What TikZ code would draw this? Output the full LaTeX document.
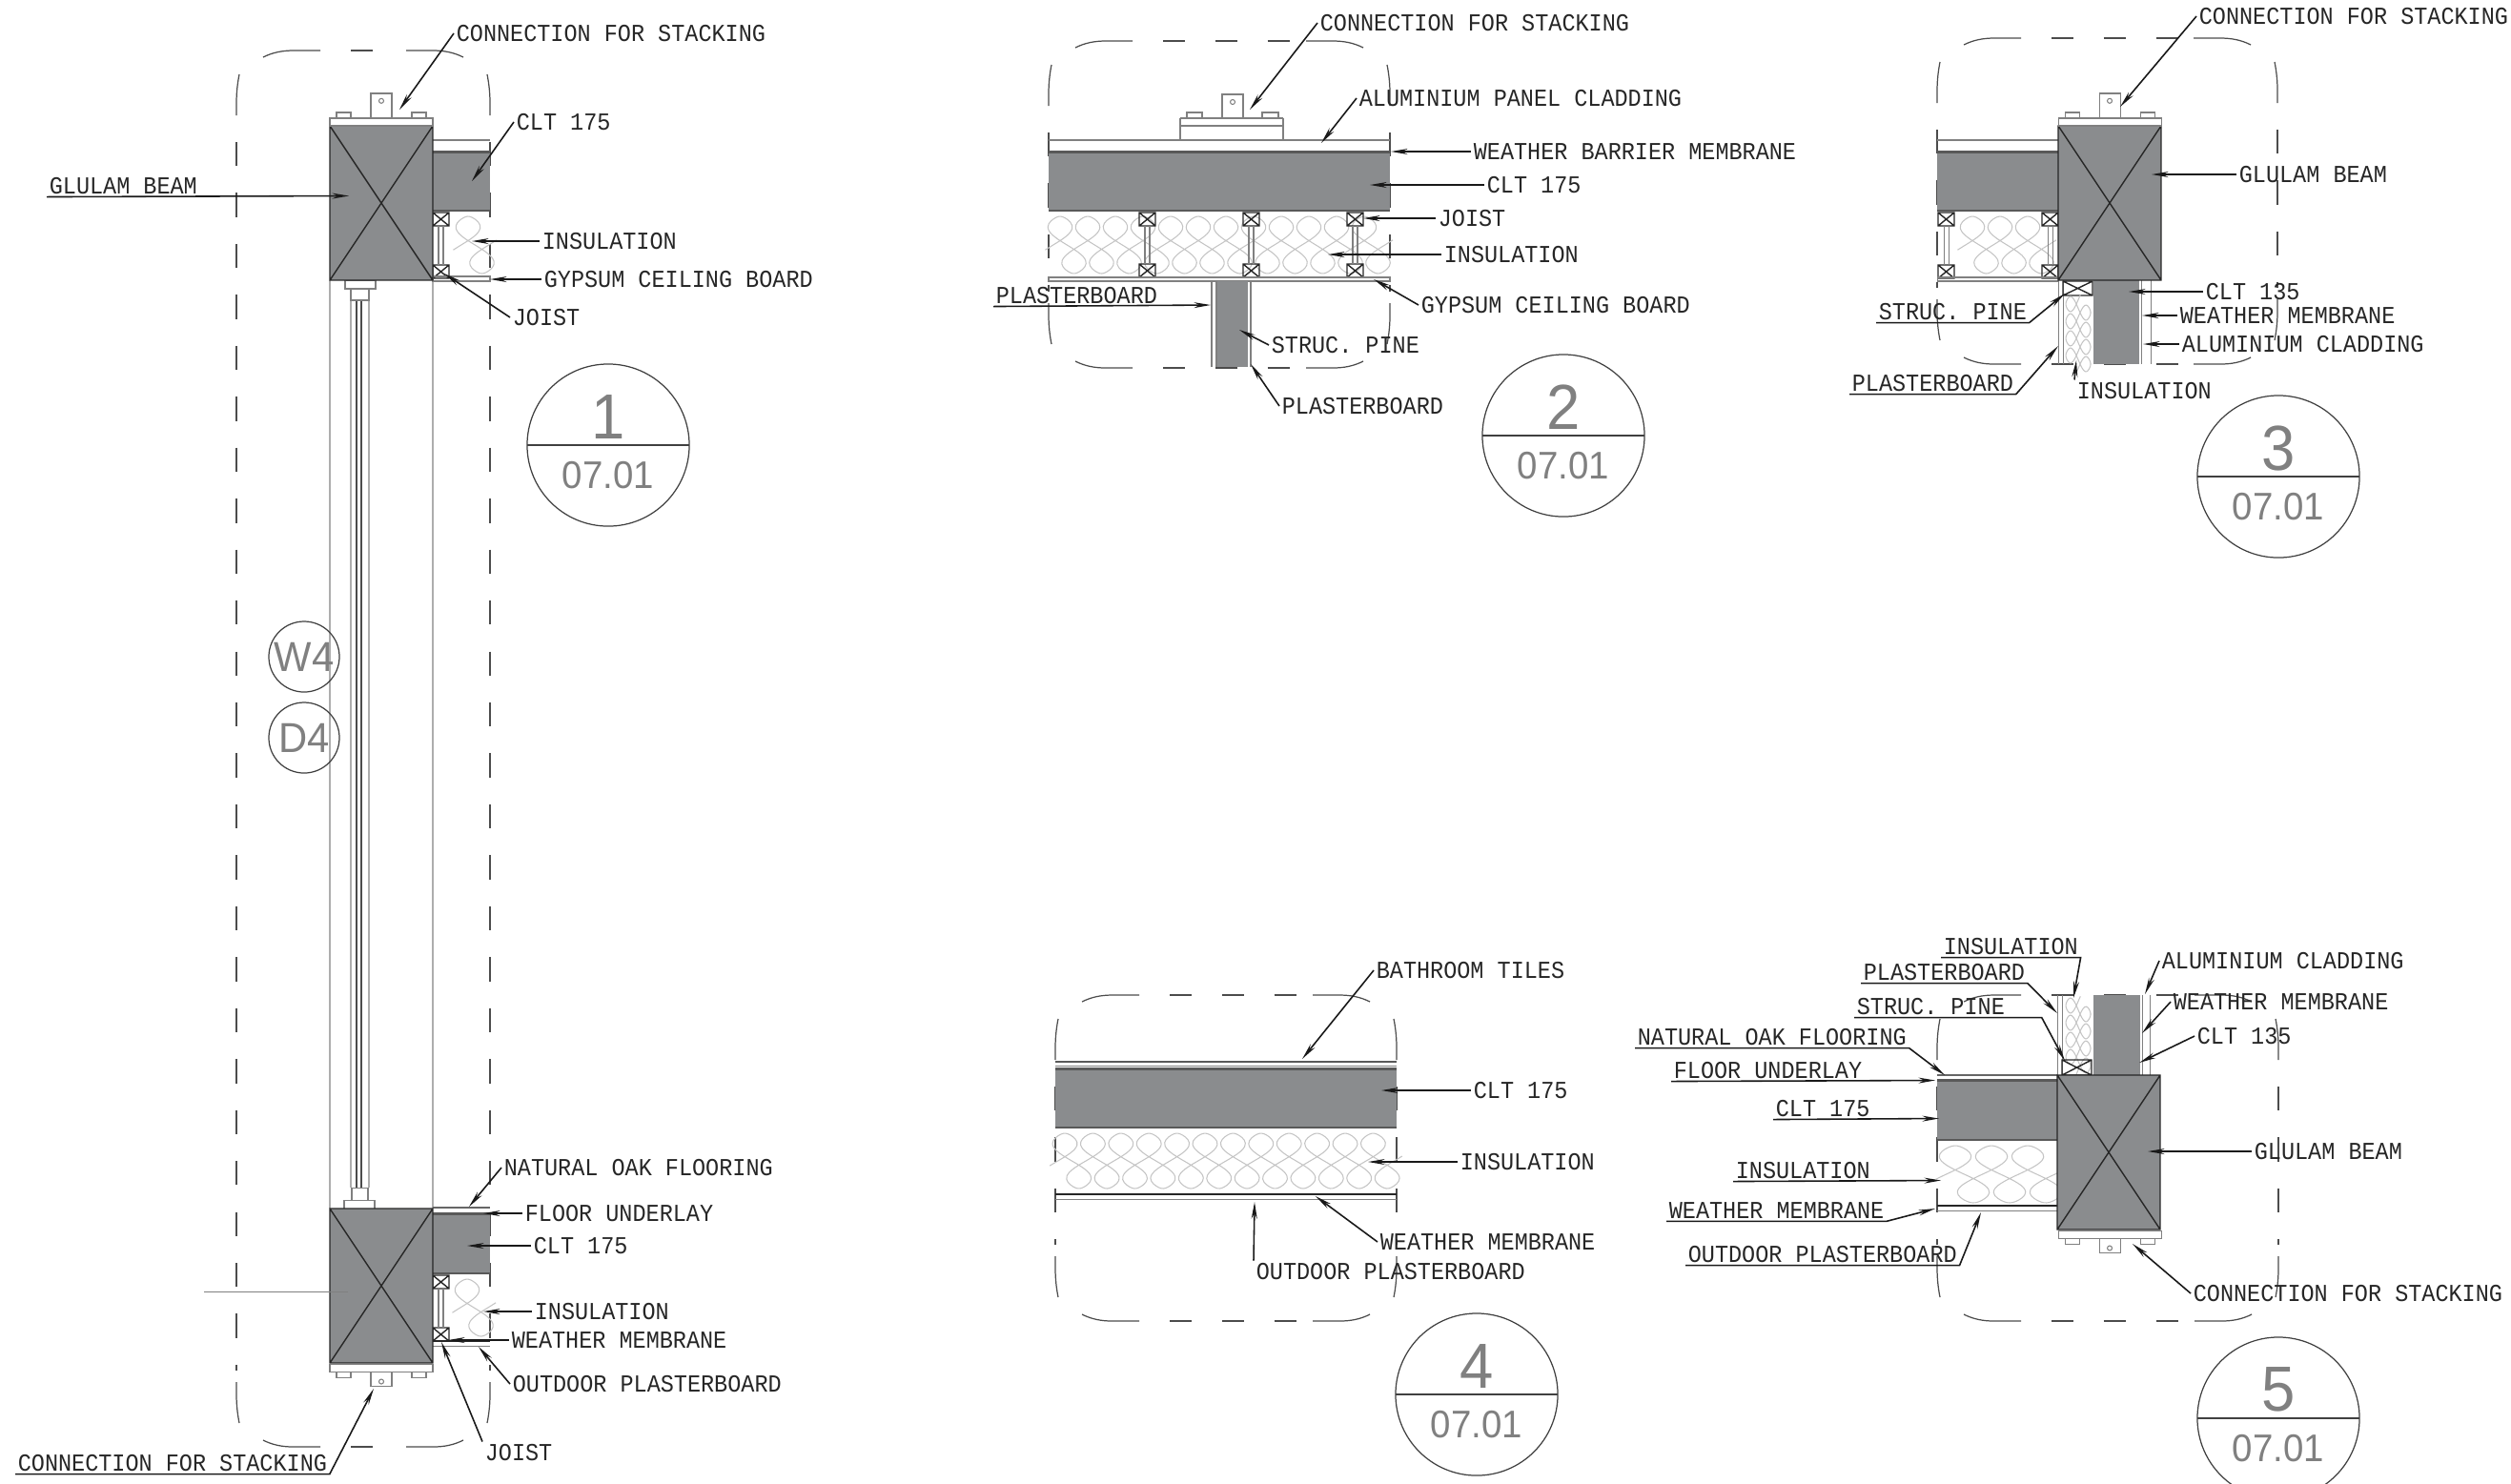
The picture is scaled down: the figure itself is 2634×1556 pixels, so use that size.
\documentclass[tikz,border=0pt]{standalone}
\usepackage{fontspec}
\usetikzlibrary{arrows.meta}
\newfontfamily\cadfont[FakeStretch=0.915]{Liberation Mono}
\newfontfamily\tagfont[FakeStretch=0.95]{Liberation Sans}
\definecolor{timber}{HTML}{8A8C8E}
\definecolor{batting}{HTML}{C4C4C4}

\tikzset{
  note/.style={anchor=west,inner sep=0.6pt,text=black!85,font=\cadfont\fontsize{7.3}{8}\selectfont},
  lead/.style={->,line width=0.45pt,black!90},
  cad/.style={line width=0.4pt,black!85},
  fine/.style={line width=0.3pt,black!50},
  pale/.style={line width=0.3pt,black!32},
  cut/.style={line width=0.35pt,black!70},
  batt/.style={line width=0.3pt,batting},
  tagcircle/.style={circle,draw=black!75,line width=0.35pt,minimum size=1.7cm,inner sep=0pt,outer sep=0pt},
  tagnum/.style={text=black!50,inner sep=0pt,font=\tagfont\fontsize{19}{20}\selectfont},
  tagsheet/.style={text=black!50,inner sep=0pt,font=\tagfont\fontsize{11.5}{12}\selectfont},
  ringtext/.style={circle,draw=black!75,line width=0.35pt,minimum size=0.74cm,inner sep=0pt,text=black!50,font=\tagfont\fontsize{12.5}{13}\selectfont},
}

\newcommand{\cutbox}[4]{
  \draw[cut] (#1+28,#2+7) .. controls (#1+38,#2+2) and (#1+48,#2) .. (#1+60,#2) -- (#1+88,#2);
  \draw[cut] (#1+#3-28,#2+7) .. controls (#1+#3-38,#2+2) and (#1+#3-48,#2) .. (#1+#3-60,#2) -- (#1+#3-88,#2);
  \draw[cut] (#1+28,#2+#4-7) .. controls (#1+38,#2+#4-2) and (#1+48,#2+#4) .. (#1+60,#2+#4) -- (#1+88,#2+#4);
  \draw[cut] (#1+#3-28,#2+#4-7) .. controls (#1+#3-38,#2+#4-2) and (#1+#3-48,#2+#4) .. (#1+#3-60,#2+#4) -- (#1+#3-88,#2+#4);
  \draw[cut] (#1+3,#2+25) .. controls (#1+1,#2+35) and (#1,#2+45) .. (#1,#2+55) -- (#1,#2+68);
  \draw[cut] (#1+#3-3,#2+25) .. controls (#1+#3-1,#2+35) and (#1+#3,#2+45) .. (#1+#3,#2+55) -- (#1+#3,#2+68);
  \draw[cut] (#1+3,#2+#4-25) .. controls (#1+1,#2+#4-35) and (#1,#2+#4-45) .. (#1,#2+#4-55) -- (#1,#2+#4-68);
  \draw[cut] (#1+#3-3,#2+#4-25) .. controls (#1+#3-1,#2+#4-35) and (#1+#3,#2+#4-45) .. (#1+#3,#2+#4-55) -- (#1+#3,#2+#4-68);
  \draw[cut,dash pattern=on 7.2pt off 8pt] (#1,#2+96) -- (#1,#2+#4-80);
  \draw[cut,dash pattern=on 7.2pt off 8pt] (#1+#3,#2+96) -- (#1+#3,#2+#4-80);
  \draw[cut,dash pattern=on 6.6pt off 9pt] (#1+120,#2) -- (#1+#3-100,#2);
  \draw[cut,dash pattern=on 6.6pt off 9pt] (#1+120,#2+#4) -- (#1+#3-100,#2+#4);
}
\newcommand{\glulam}[2]{
  \fill[timber] (#1,#2) rectangle (#1+108,#2+162);
  \draw[cad] (#1,#2) rectangle (#1+108,#2+162) (#1,#2) -- (#1+108,#2+162) (#1+108,#2) -- (#1,#2+162);
}
\newcommand{\stacktab}[4]{
  \draw[fine] (#1-54,#2) rectangle (#1+54,#2+8*#3);
  \draw[fine] (#1-47,#2+8*#3) rectangle (#1-32,#2+14*#3);
  \draw[fine] (#1+32,#2+8*#3) rectangle (#1+47,#2+14*#3);
  \draw[fine] (#1-11,#2+8*#3) rectangle (#1+11,#2+8*#3+#4*#3);
  \draw[fine] (#1,#2+8*#3+#4*#3*0.7) circle[radius=0.025cm];
}
\newcommand{\joist}[3]{
  \draw[cad] (#1,#2) rectangle (#1+17,#2+14) (#1,#2) -- (#1+17,#2+14) (#1+17,#2) -- (#1,#2+14);
  \draw[cad] (#1,#3-14) rectangle (#1+17,#3) (#1,#3-14) -- (#1+17,#3) (#1+17,#3-14) -- (#1,#3);
  \draw[fine] (#1+6,#2+14) -- (#1+6,#3-14) (#1+11,#2+14) -- (#1+11,#3-14);
}
\newcommand{\clt}[4]{
  \fill[timber] (#1,#2) rectangle (#3,#4);
  \fill[black!65] (#1,#2) rectangle (#3,#2+2.5);
  \fill[black!65] (#1,#4-2) rectangle (#3,#4);
}
\newcommand{\batth}[5]{
  \draw[batt] plot[domain=-100:180*#5+100,samples=20*#5+30,smooth,variable=\t]
    ({#1+#4/360*\t-0.55*#4*sin(2*\t)*(1-0.4*cos(2*\t))},{#2-#3*cos(\t)});
}
\newcommand{\battv}[5]{
  \draw[batt] plot[domain=-100:180*#5+100,samples=20*#5+30,smooth,variable=\t]
    ({#1-#3*cos(\t)},{#2+#4/360*\t-0.55*#4*sin(2*\t)*(1-0.4*cos(2*\t))});
}
\newcommand{\sheettag}[4]{
  \node[tagcircle] (tag#1) at (#2,#3) {};
  \draw[black!75,line width=0.35pt] (tag#1.west) -- (tag#1.east);
  \node[tagnum] (num#1) at (#2,#3-30) {#1};
  \node[tagsheet] (sheet#1) at (#2,#3+32) {#4};
}

\begin{document}
\begin{tikzpicture}[x=0.01cm,y=-0.01cm,>={Stealth[length=5pt,width=1.7pt]}]
\useasboundingbox (0,0) rectangle (2634,1556);
\clip (0,0) rectangle (2634,1556);

\cutbox{248}{53}{266}{1465}
\draw[pale] (346,294) -- (346,1268) (454,294) -- (454,1268);
\draw[pale] (368,315) -- (368,1246) (387,315) -- (387,1246);
\draw[black!70,line width=0.55pt] (374,315) -- (374,1246) (379,315) -- (379,1246);
\draw[fine] (362,294) rectangle (394,303) (368,303) rectangle (387,315);
\draw[fine] (361,1259) rectangle (393,1268) (369,1246) rectangle (386,1259);
\batth{491}{257}{30}{29}{1}
\draw[fine] (454,147) -- (514,147);
\clt{454}{158}{514}{222}
\joist{454}{223}{292}
\draw[fine] (454,290) rectangle (514,295);
\glulam{346}{132}
\stacktab{400}{132}{-1}{26}
\batth{490}{1372}{30}{29}{1}
\draw[black!60,line width=0.5pt] (454,1267) -- (514,1267);
\clt{454}{1272}{514}{1337}
\joist{454}{1338}{1407}
\draw[black!85,line width=0.6pt] (454,1407) -- (514,1407);
\draw[fine] (454,1412) -- (514,1412);
\glulam{346}{1268}
\stacktab{400}{1431}{1}{15}
\draw[fine] (214,1355) -- (365,1355);

\node[note] (stack1) at (476,35) {CONNECTION FOR STACKING};
\coordinate (stack1t) at (419,115);
\draw[lead] (stack1.west) -- (stack1t);
\node[note] (clt1) at (539,128) {CLT 175};
\coordinate (clt1t) at (495,190);
\draw[lead] (clt1.west) -- (clt1t);
\node[note] (beam1) at (49,195) {GLULAM BEAM};
\coordinate (beam1t) at (366,205.5);
\draw[lead] (beam1.south west) -- (beam1t);
\node[note] (ins1) at (566,253) {INSULATION};
\coordinate (ins1t) at (495,253);
\draw[lead] (ins1.west) -- (ins1t);
\node[note] (gyp1) at (568,293) {GYPSUM CEILING BOARD};
\coordinate (gyp1t) at (514,293);
\draw[lead] (gyp1.west) -- (gyp1t);
\node[note] (joist1) at (535,333) {JOIST};
\coordinate (joist1t) at (466,287);
\draw[lead] (joist1.west) -- (joist1t);
\node[note] (oak1) at (526,1225) {NATURAL OAK FLOORING};
\coordinate (oak1t) at (492,1266);
\draw[lead] (oak1.west) -- (oak1t);
\node[note] (under1) at (548,1273) {FLOOR UNDERLAY};
\coordinate (under1t) at (507,1273);
\draw[lead] (under1.west) -- (under1t);
\node[note] (cltb1) at (557,1307) {CLT 175};
\coordinate (cltb1t) at (490,1307);
\draw[lead] (cltb1.west) -- (cltb1t);
\node[note] (insb1) at (558,1376) {INSULATION};
\coordinate (insb1t) at (507,1376);
\draw[lead] (insb1.west) -- (insb1t);
\node[note] (wm1) at (534,1406) {WEATHER MEMBRANE};
\coordinate (wm1t) at (470,1406);
\draw[lead] (wm1.west) -- (wm1t);
\node[note] (out1) at (535,1452) {OUTDOOR PLASTERBOARD};
\coordinate (out1t) at (502,1413);
\draw[lead] (out1.west) -- (out1t);
\node[note] (joistb1) at (506,1524) {JOIST};
\coordinate (joistb1t) at (463,1408);
\draw[lead] (joistb1.north west) -- (joistb1t);
\node[note] (stackb1) at (16,1535) {CONNECTION FOR STACKING};
\coordinate (stackb1t) at (392,1457);
\draw[lead] (stackb1.south west) -- (stackb1.south east) -- (stackb1t);
\sheettag{1}{638}{467}{07.01}
\node[ringtext] (w4) at (319,689) {W4};
\node[ringtext] (d4) at (319,774) {D4};

\cutbox{1100}{43}{358}{343}
\batth{1112}{257}{30}{29}{23}
\draw[fine] (1100,147) -- (1458,147) (1238,147) -- (1238,124) (1346,147) -- (1346,124) (1238,132) -- (1346,132);
\draw[fine] (1238,124) -- (1346,124);
\draw[fine] (1245,124) rectangle (1261,118) (1324,124) rectangle (1341,118);
\draw[fine] (1282,124) rectangle (1304,99);
\draw[fine] (1293,107) circle[radius=0.025cm];
\clt{1100}{158}{1458}{222}
\joist{1195}{223}{291}
\joist{1304}{223}{291}
\joist{1413}{223}{291}
\draw[fine] (1100,291) rectangle (1458,295);
\fill[timber] (1276,295) rectangle (1309,385);
\draw[fine] (1271,295) -- (1271,385) (1276,295) -- (1276,385) (1312,295) -- (1312,385);

\node[note] (stack2) at (1382,24) {CONNECTION FOR STACKING};
\coordinate (stack2t) at (1311,115);
\draw[lead] (stack2.west) -- (stack2t);
\node[note] (alu2) at (1423,103) {ALUMINIUM PANEL CLADDING};
\coordinate (alu2t) at (1386,150);
\draw[lead] (alu2.west) -- (alu2t);
\node[note] (wm2) at (1543,159) {WEATHER BARRIER MEMBRANE};
\coordinate (wm2t) at (1459,159);
\draw[lead] (wm2.west) -- (wm2t);
\node[note] (clt2) at (1557,194) {CLT 175};
\coordinate (clt2t) at (1437,194);
\draw[lead] (clt2.west) -- (clt2t);
\node[note] (joist2) at (1506,229) {JOIST};
\coordinate (joist2t) at (1430,229);
\draw[lead] (joist2.west) -- (joist2t);
\node[note] (ins2) at (1512,267) {INSULATION};
\coordinate (ins2t) at (1393,267);
\draw[lead] (ins2.west) -- (ins2t);
\node[note] (gyp2) at (1488,320) {GYPSUM CEILING BOARD};
\coordinate (gyp2t) at (1441,293);
\draw[lead] (gyp2.west) -- (gyp2t);
\node[note] (plas2) at (1042,310) {PLASTERBOARD};
\coordinate (plas2t) at (1270,320);
\draw[lead] (plas2.south west) -- (plas2t);
\node[note] (pine2) at (1331,362) {STRUC. PINE};
\coordinate (pine2t) at (1300,346);
\draw[lead] (pine2.west) -- (pine2t);
\node[note] (plasb2) at (1342,426) {PLASTERBOARD};
\coordinate (plasb2t) at (1312,382);
\draw[lead] (plasb2.west) -- (plasb2t);
\sheettag{2}{1640}{457}{07.01}

\cutbox{2032}{40}{357}{342}
\batth{2069}{257}{30}{29}{5}
\draw[fine] (2032,147) -- (2159,147);
\clt{2032}{158}{2159}{222}
\joist{2033}{223}{292}
\joist{2142}{223}{292}
\draw[fine] (2032,291) rectangle (2159,295);
\draw[fine] (2159,294) -- (2159,382) (2164,294) -- (2164,382);
\draw[cad] (2164,295) rectangle (2195,310) (2164,295) -- (2195,310) (2195,295) -- (2164,310);
\battv{2180}{319}{13}{18}{7}
\fill[timber] (2196,294) rectangle (2244,382);
\draw[fine] (2246,294) -- (2246,382) (2256,294) -- (2256,382);
\glulam{2159}{132}
\stacktab{2213}{132}{-1}{26}

\node[note] (stack3) at (2304,17) {CONNECTION FOR STACKING};
\coordinate (stack3t) at (2224,112);
\draw[lead] (stack3.west) -- (stack3t);
\node[note] (beam3) at (2346,183) {GLULAM BEAM};
\coordinate (beam3t) at (2257,183);
\draw[lead] (beam3.west) -- (beam3t);
\node[note] (clt3) at (2311,306) {CLT 135};
\coordinate (clt3t) at (2233,306);
\draw[lead] (clt3.west) -- (clt3t);
\node[note] (wm3) at (2284,331) {WEATHER MEMBRANE};
\coordinate (wm3t) at (2247,331);
\draw[lead] (wm3.west) -- (wm3t);
\node[note] (alu3) at (2286,361) {ALUMINIUM CLADDING};
\coordinate (alu3t) at (2248,361);
\draw[lead] (alu3.west) -- (alu3t);
\node[note] (pine3) at (1968,327) {STRUC. PINE};
\coordinate (pine3t) at (2166,308);
\draw[lead] (pine3.south west) -- (pine3.south east) -- (pine3t);
\node[note] (plas3) at (1940,402) {PLASTERBOARD};
\coordinate (plas3t) at (2159,363);
\draw[lead] (plas3.south west) -- (plas3.south east) -- (plas3t);
\node[note] (ins3) at (2176,410) {INSULATION};
\coordinate (ins3t) at (2178,378);
\draw[lead] (ins3.north west) -- (ins3t);
\sheettag{3}{2390}{500}{07.01}

\cutbox{1107}{1044}{358}{342}
\draw[black!65,line width=0.5pt] (1107,1114) -- (1465,1114);
\draw[fine] (1107,1118) -- (1465,1118);
\clt{1107}{1120}{1465}{1184}
\batth{1117}{1218}{29}{29.4}{23}
\draw[black!85,line width=0.6pt] (1107,1253) -- (1465,1253);
\draw[fine] (1107,1258) -- (1465,1258);

\node[note] (tile4) at (1441,1018) {BATHROOM TILES};
\coordinate (tile4t) at (1366,1111);
\draw[lead] (tile4.west) -- (tile4t);
\node[note] (clt4) at (1543,1144) {CLT 175};
\coordinate (clt4t) at (1449,1144);
\draw[lead] (clt4.west) -- (clt4t);
\node[note] (ins4) at (1529,1219) {INSULATION};
\coordinate (ins4t) at (1435,1219);
\draw[lead] (ins4.west) -- (ins4t);
\node[note] (wm4) at (1445,1303) {WEATHER MEMBRANE};
\coordinate (wm4t) at (1380,1255);
\draw[lead] (wm4.west) -- (wm4t);
\node[note] (out4) at (1315,1334) {OUTDOOR PLASTERBOARD};
\coordinate (out4t) at (1316,1261);
\draw[lead] (out4.north west) -- (out4t);
\sheettag{4}{1549}{1463}{07.01}

\cutbox{2032}{1044}{358}{342}
\batth{2051}{1232}{30}{38}{5}
\battv{2180}{1055}{13}{18}{7}
\draw[black!60,line width=0.5pt] (2032,1128) -- (2158,1128);
\clt{2032}{1132}{2158}{1197}
\draw[black!85,line width=0.6pt] (2032,1265) -- (2158,1265);
\draw[fine] (2032,1270) -- (2158,1270);
\draw[fine] (2158,1044) -- (2158,1128) (2163,1044) -- (2163,1128);
\draw[cad] (2163,1112) rectangle (2194,1128) (2163,1112) -- (2194,1128) (2194,1112) -- (2163,1128);
\fill[timber] (2196,1044) rectangle (2245,1128);
\draw[fine] (2247,1044) -- (2247,1128) (2255,1044) -- (2255,1128);
\glulam{2158}{1128}
\stacktab{2213}{1291}{1}{15}

\node[note] (ins5) at (2036,993) {INSULATION};
\coordinate (ins5t) at (2175,1047);
\draw[lead] (ins5.south west) -- (ins5.south east) -- (ins5t);
\node[note] (alu5) at (2265,1008) {ALUMINIUM CLADDING};
\coordinate (alu5t) at (2250,1043);
\draw[lead] (alu5.west) -- (alu5t);
\node[note] (plas5) at (1952,1020) {PLASTERBOARD};
\coordinate (plas5t) at (2158,1063);
\draw[lead] (plas5.south west) -- (plas5.south east) -- (plas5t);
\node[note] (wm5) at (2277,1051) {WEATHER MEMBRANE};
\coordinate (wm5t) at (2247,1084);
\draw[lead] (wm5.west) -- (wm5t);
\node[note] (pine5) at (1945,1056) {STRUC. PINE};
\coordinate (pine5t) at (2166,1113);
\draw[lead] (pine5.south west) -- (pine5.south east) -- ++(36,0) -- (pine5t);
\node[note] (clt5) at (2302,1087) {CLT 135};
\coordinate (clt5t) at (2244,1115);
\draw[lead] (clt5.west) -- (clt5t);
\node[note] (oak5) at (1715,1088) {NATURAL OAK FLOORING};
\coordinate (oak5t) at (2040,1128);
\draw[lead] (oak5.south west) -- (oak5.south east) -- (oak5t);
\node[note] (under5) at (1753,1123) {FLOOR UNDERLAY};
\coordinate (under5t) at (2030,1133.5);
\draw[lead] (under5.south west) -- (under5t);
\node[note] (cltb5) at (1860,1163) {CLT 175};
\coordinate (cltb5t) at (2034,1173.5);
\draw[lead] (cltb5.south west) -- (cltb5t);
\node[note] (beam5) at (2362,1208) {GLULAM BEAM};
\coordinate (beam5t) at (2253,1208);
\draw[lead] (beam5.west) -- (beam5t);
\node[note] (insb5) at (1818,1228) {INSULATION};
\coordinate (insb5t) at (2036,1238.5);
\draw[lead] (insb5.south west) -- (insb5t);
\node[note] (wmb5) at (1748,1270) {WEATHER MEMBRANE};
\coordinate (wmb5t) at (2030,1268);
\draw[lead] (wmb5.south west) -- (wmb5.south east) -- (wmb5t);
\node[note] (out5) at (1768,1316) {OUTDOOR PLASTERBOARD};
\coordinate (out5t) at (2078,1272);
\draw[lead] (out5.south west) -- (out5.south east) -- (out5t);
\node[note] (stackb5) at (2298,1357) {CONNECTION FOR STACKING};
\coordinate (stackb5t) at (2237,1305);
\draw[lead] (stackb5.west) -- (stackb5t);
\sheettag{5}{2390}{1488}{07.01}
\end{tikzpicture}
\end{document}
